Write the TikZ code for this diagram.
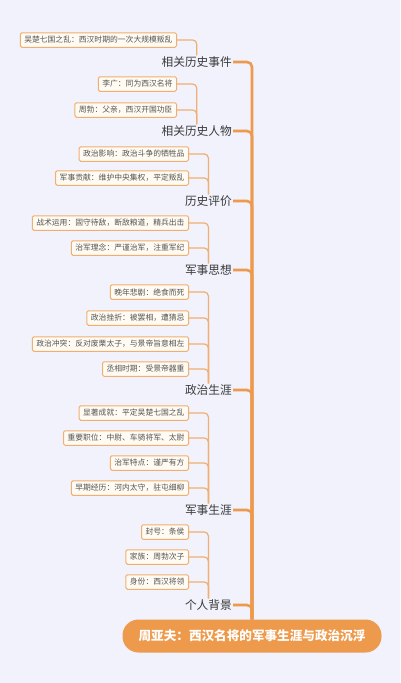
\documentclass[tikz,border=0pt]{standalone}
\usepackage{fontspec}
\setmainfont{Noto Sans CJK SC}
\usepackage{tikz}
\usetikzlibrary{positioning}

\definecolor{bgcol}{HTML}{F1F2FC}
\definecolor{trunkcol}{HTML}{EE9A4D}
\definecolor{twigcol}{HTML}{F0AE72}
\definecolor{leafcol}{HTML}{FFFBF2}
\definecolor{catcol}{HTML}{3A3A3A}
\definecolor{leaftext}{HTML}{555555}

\begin{document}
\begin{tikzpicture}[x=1pt, y=-1pt]
% Styles
\tikzstyle{root} = [fill=trunkcol, rounded corners=16pt, minimum height=33pt, minimum width=259pt, text=white, font=\fontsize{12.6}{14}\selectfont\bfseries, inner sep=0pt]
\tikzstyle{cat} = [anchor=east, inner sep=1pt, text=catcol, font=\fontsize{11.7}{13}\selectfont]
\tikzstyle{leaf} = [draw=twigcol, fill=leafcol, line width=1pt, rounded corners=1.5pt, anchor=east, minimum height=14.5pt, inner xsep=4pt, inner ysep=0pt, text=leaftext, font=\fontsize{7.8}{9}\selectfont]
\tikzstyle{trunk} = [draw=trunkcol, line width=2.6pt, rounded corners=5pt]
\tikzstyle{twig} = [draw=twigcol, line width=1.2pt, rounded corners=4pt]

\useasboundingbox[fill=bgcol] (0,0) rectangle (400,683);

% Nodes
\node (root) [root] at (252,636) {周亚夫：西汉名将的军事生涯与政治沉浮};

\node (events) [cat] at (233,62) {相关历史事件};
\node (people) [cat] at (233,131) {相关历史人物};
\node (eval) [cat] at (233,201) {历史评价};
\node (thought) [cat] at (233,270) {军事思想};
\node (politics) [cat] at (233,390) {政治生涯};
\node (military) [cat] at (233,510) {军事生涯};
\node (personal) [cat] at (233,605) {个人背景};

\node (wuchu) [leaf] at (177,40) {吴楚七国之乱：西汉时期的一次大规模叛乱};
\node (liguang) [leaf] at (177,84) {李广：同为西汉名将};
\node (zhoubo) [leaf] at (177,110) {周勃：父亲，西汉开国功臣};
\node (evalpol) [leaf] at (189,154) {政治影响：政治斗争的牺牲品};
\node (evalmil) [leaf] at (189,178) {军事贡献：维护中央集权，平定叛乱};
\node (tactics) [leaf] at (189,223) {战术运用：固守待敌，断敌粮道，精兵出击};
\node (discipline) [leaf] at (189,248) {治军理念：严谨治军，注重军纪};
\node (lateyears) [leaf] at (189,292) {晚年悲剧：绝食而死};
\node (setback) [leaf] at (189,318) {政治挫折：被罢相，遭猜忌};
\node (conflict) [leaf] at (189,344) {政治冲突：反对废栗太子，与景帝旨意相左};
\node (chancellor) [leaf] at (189,369) {丞相时期：受景帝器重};
\node (feat) [leaf] at (189,413) {显著成就：平定吴楚七国之乱};
\node (posts) [leaf] at (189,438) {重要职位：中尉、车骑将军、太尉};
\node (style) [leaf] at (189,463) {治军特点：谨严有方};
\node (early) [leaf] at (189,488) {早期经历：河内太守，驻屯细柳};
\node (title) [leaf] at (189,532) {封号：条侯};
\node (family) [leaf] at (189,557) {家族：周勃次子};
\node (identity) [leaf] at (189,582) {身份：西汉将领};

% Connections
\foreach \c in {events,people,eval,thought,politics,military,personal}
  \draw [trunk] (root.north) |- (\c.east);

\foreach \c/\l in {events/wuchu, people/liguang, people/zhoubo,
                   eval/evalpol, eval/evalmil, thought/tactics, thought/discipline,
                   politics/lateyears, politics/setback, politics/conflict, politics/chancellor,
                   military/feat, military/posts, military/style, military/early,
                   personal/title, personal/family, personal/identity}
  \draw [twig] (\c.north) |- (\l.east);
\end{tikzpicture}
\end{document}
